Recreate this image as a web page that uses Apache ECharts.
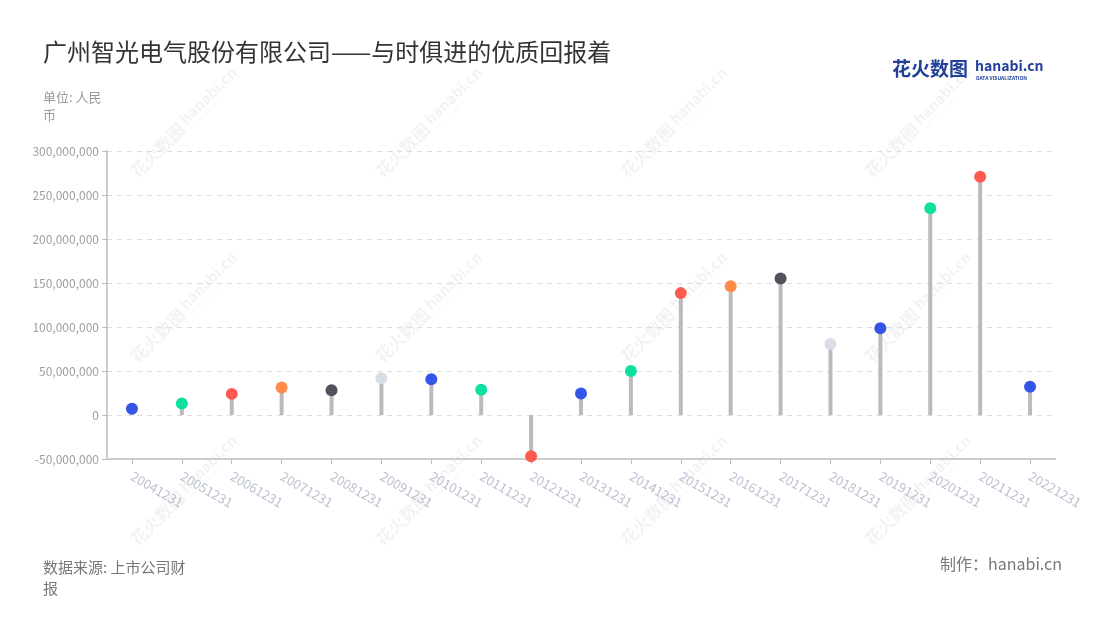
<!DOCTYPE html>
<html>
<head>
<meta charset="utf-8">
<script src="https://cdn.jsdelivr.net/npm/echarts@6/dist/echarts.min.js"></script>
<style>
html,body{margin:0;padding:0;background:#fff;}
#chart{width:1100px;height:620px;}
</style>
</head>
<body>
<div id="chart"></div>
<script>
const categories = ['20041231','20051231','20061231','20071231','20081231','20091231','20101231','20111231','20121231','20131231','20141231','20151231','20161231','20171231','20181231','20191231','20201231','20211231','20221231'];
const profit = [7100000,13100000,24000000,31200000,28200000,41800000,40700000,28600000,-46800000,24400000,50000000,138500000,146400000,155100000,80600000,98600000,235000000,270800000,32000000];
const pointColors = ['#3555e8','#0fe0a0','#ff5a4f','#ff8a4a','#50525c','#d9dde7','#3555e8','#0fe0a0','#ff5a4f','#3555e8','#0fe0a0','#ff5a4f','#ff8a4a','#50525c','#d9dde7','#3555e8','#0fe0a0','#ff5a4f','#3555e8'];
const yTicks = {min:-50000000, max:300000000, interval:50000000};
const titleText = '广州智光电气股份有限公司——与时俱进的优质回报着';
const unitText = '单位: 人民币';
const sourceText = '数据来源: 上市公司财报';
const makerText = '制作：hanabi.cn';

const FONT = '"Noto Sans CJK SC","Noto Sans",sans-serif';
const chart = echarts.init(document.getElementById('chart'), null, {renderer:'canvas'});

function fmt(v){return v.toString().replace(/\B(?=(\d{3})+(?!\d))/g, ',');}

const wmCols = [183, 428, 673, 917];
const wmRows = [125, 310, 493];
const WM = 'rgba(0,0,0,0.05)';
const watermarks = [];
wmRows.forEach(function(y){
  wmCols.forEach(function(x){
    watermarks.push({
      type:'group', x:x, y:y, rotation:Math.PI/4, silent:true, z:-10,
      children:[
        {type:'text', x:-70, y:0, style:{text:'花火数图', font:'bold 17px '+FONT, fill:WM, textVerticalAlign:'middle'}},
        {type:'text', x:2, y:-3, style:{text:'hanabi.cn', font:'bold 15px '+FONT, fill:WM, textVerticalAlign:'middle'}},
        {type:'text', x:4, y:8, style:{text:'DATA VISUALIZATION', font:'4px '+FONT, fill:WM, textVerticalAlign:'middle'}}
      ]
    });
  });
});

const option = {
  backgroundColor:'#fff',
  textStyle:{fontFamily:FONT},
  animation:false,
  grid:{left:107, right:45, top:151, bottom:161},
  xAxis:{
    type:'category', data:categories,
    axisLine:{onZero:false, lineStyle:{color:'#cccccc', width:2}},
    axisTick:{show:true, alignWithLabel:true, lineStyle:{color:'#bbbbbb'}},
    axisLabel:{rotate:-30, color:'#bcc1d2', fontSize:13, margin:16, interval:0, fontFamily:FONT},
    splitLine:{show:false}
  },
  yAxis:{
    type:'value', min:yTicks.min, max:yTicks.max, interval:yTicks.interval,
    axisLine:{show:true, lineStyle:{color:'#cccccc', width:2}},
    axisTick:{show:true, lineStyle:{color:'#bbbbbb'}},
    axisLabel:{color:'#a0a0a0', fontSize:12, formatter:fmt, fontFamily:FONT},
    splitLine:{show:true, lineStyle:{color:'#dddddd', type:[5,5]}}
  },
  series:[
    {type:'bar', data:profit, barWidth:4, itemStyle:{color:'#bbbbbb'}, silent:true},
    {type:'scatter', data:profit.map(function(v,i){return {value:v, itemStyle:{color:pointColors[i], opacity:1}};}), symbolSize:12, z:5}
  ],
  graphic:watermarks.concat([
    {type:'text', left:43, top:40, style:{text:titleText, font:'24px '+FONT, fill:'#333333'}},
    {type:'text', left:43, top:88, style:{text:unitText, font:'13px '+FONT, fill:'#999999', width:72, overflow:'break', lineHeight:18}},
    {type:'text', left:43, top:557, style:{text:sourceText, font:'15px '+FONT, fill:'#777777', width:150, overflow:'break', lineHeight:21}},
    {type:'text', right:38, top:556, style:{text:makerText, font:'16px '+FONT, fill:'#777777'}},
    {type:'text', left:892, top:59, style:{text:'花火数图', font:'bold 19px '+FONT, fill:'#22409a'}},
    {type:'text', left:975, top:59, style:{text:'hanabi.cn', font:'bold 14px '+FONT, fill:'#22409a'}},
    {type:'text', left:976, top:76, style:{text:'DATA VISUALIZATION', font:'bold 5px '+FONT, fill:'#22409a'}}
  ])
};
chart.setOption(option);
</script>
</body>
</html>
